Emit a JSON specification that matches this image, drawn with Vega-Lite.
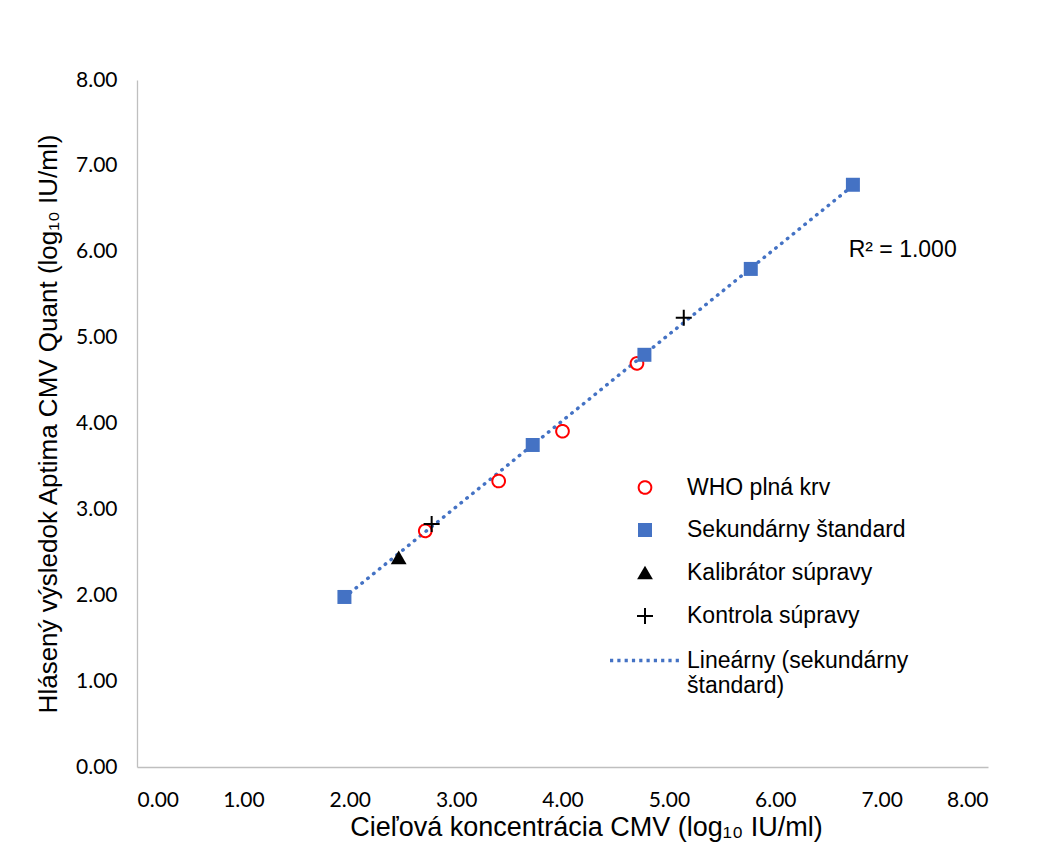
{
  "$schema": "https://vega.github.io/schema/vega-lite/v6.json",
  "width": 851,
  "height": 687,
  "autosize": {"type": "none"},
  "padding": {"left": 137, "top": 80, "right": 60, "bottom": 78},
  "background": "#ffffff",
  "config": {
    "view": {"stroke": null},
    "axis": {
      "grid": false,
      "ticks": false,
      "domainColor": "#BFBFBF",
      "domainWidth": 1.3,
      "labelFont": "Lato",
      "labelFontSize": 21,
      "labelColor": "#000000",
      "titleFont": "Liberation Sans",
      "titleFontSize": 27,
      "titleFontWeight": "normal",
      "titleColor": "#000000"
    },
    "legend": {
      "orient": "none",
      "legendX": 494.5,
      "legendY": 396,
      "padding": 0,
      "labelFont": "Liberation Sans",
      "labelFontSize": 23,
      "labelColor": "#000000",
      "labelLimit": 500,
      "labelOffset": 28.5,
      "rowPadding": 18.5,
      "symbolOpacity": 1
    }
  },
  "datasets": {
    "pts": [
      {"s": "WHO plná krv", "x": 2.71, "y": 2.75},
      {"s": "WHO plná krv", "x": 3.40, "y": 3.33},
      {"s": "WHO plná krv", "x": 4.00, "y": 3.91},
      {"s": "WHO plná krv", "x": 4.70, "y": 4.70},
      {"s": "Sekundárny štandard", "x": 1.95, "y": 1.98},
      {"s": "Sekundárny štandard", "x": 3.72, "y": 3.75},
      {"s": "Sekundárny štandard", "x": 4.77, "y": 4.80},
      {"s": "Sekundárny štandard", "x": 5.77, "y": 5.80},
      {"s": "Sekundárny štandard", "x": 6.73, "y": 6.78},
      {"s": "Kalibrátor súpravy", "x": 2.46, "y": 2.44},
      {"s": "Kontrola súpravy", "x": 2.77, "y": 2.83},
      {"s": "Kontrola súpravy", "x": 5.14, "y": 5.23}
    ],
    "ann": [{"x": 6.69, "y": 6.02, "label": "R² = 1.000"}]
  },
  "layer": [
    {
      "data": {"name": "pts"},
      "transform": [
        {"filter": "datum.s === 'Sekundárny štandard'"},
        {"regression": "y", "on": "x", "method": "linear"}
      ],
      "mark": {"type": "line", "color": "#4472C4", "strokeWidth": 3.5, "strokeDash": [0.5, 7], "strokeCap": "round", "opacity": 1},
      "encoding": {
        "x": {"field": "x", "type": "quantitative"},
        "y": {"field": "y", "type": "quantitative"}
      }
    },
    {
      "data": {"name": "pts"},
      "mark": {"type": "point", "opacity": 1},
      "encoding": {
        "x": {
          "field": "x", "type": "quantitative",
          "scale": {"domain": [0, 8], "nice": false},
          "axis": {"values": [0, 1, 2, 3, 4, 5, 6, 7, 8], "format": ".2f", "labelPadding": 22, "titlePadding": 4, "titleX": 449, "title": "Cieľová koncentrácia CMV (log₁₀ IU/ml)"}
        },
        "y": {
          "field": "y", "type": "quantitative",
          "scale": {"domain": [0, 8], "nice": false},
          "axis": {"values": [0, 1, 2, 3, 4, 5, 6, 7, 8], "format": ".2f", "labelPadding": 20, "titlePadding": 14, "titleFontSize": 26, "title": "Hlásený výsledok Aptima CMV Quant (log₁₀ IU/ml)"}
        },
        "fill": {
          "field": "s", "type": "nominal", "title": null,
          "scale": {"domain": ["WHO plná krv", "Sekundárny štandard", "Kalibrátor súpravy", "Kontrola súpravy", "Lineárny (sekundárny štandard)"], "range": ["transparent", "#4472C4", "#000000", "transparent", "transparent"]},
          "legend": {"labelExpr": "datum.label === 'Lineárny (sekundárny štandard)' ? ['Lineárny (sekundárny', 'štandard)'] : datum.label"}
        },
        "stroke": {
          "field": "s", "type": "nominal", "title": null,
          "scale": {"domain": ["WHO plná krv", "Sekundárny štandard", "Kalibrátor súpravy", "Kontrola súpravy", "Lineárny (sekundárny štandard)"], "range": ["#FF0000", "transparent", "transparent", "#000000", "#4472C4"]},
          "legend": {"labelExpr": "datum.label === 'Lineárny (sekundárny štandard)' ? ['Lineárny (sekundárny', 'štandard)'] : datum.label"}
        },
        "size": {
          "field": "s", "type": "nominal", "title": null,
          "scale": {"type": "ordinal", "domain": ["WHO plná krv", "Sekundárny štandard", "Kalibrátor súpravy", "Kontrola súpravy", "Lineárny (sekundárny štandard)"], "range": [160, 196, 250, 256, 544]},
          "legend": {"labelExpr": "datum.label === 'Lineárny (sekundárny štandard)' ? ['Lineárny (sekundárny', 'štandard)'] : datum.label"}
        },
        "strokeWidth": {
          "field": "s", "type": "nominal", "title": null,
          "scale": {"type": "ordinal", "domain": ["WHO plná krv", "Sekundárny štandard", "Kalibrátor súpravy", "Kontrola súpravy", "Lineárny (sekundárny štandard)"], "range": [2, 0, 0, 2, 3.5]},
          "legend": {"labelExpr": "datum.label === 'Lineárny (sekundárny štandard)' ? ['Lineárny (sekundárny', 'štandard)'] : datum.label"}
        },
        "strokeDash": {
          "field": "s", "type": "nominal", "title": null,
          "scale": {"domain": ["WHO plná krv", "Sekundárny štandard", "Kalibrátor súpravy", "Kontrola súpravy", "Lineárny (sekundárny štandard)"], "range": [[1, 0], [1, 0], [1, 0], [1, 0], [3.2, 4.1]]},
          "legend": {"labelExpr": "datum.label === 'Lineárny (sekundárny štandard)' ? ['Lineárny (sekundárny', 'štandard)'] : datum.label"}
        },
        "shape": {
          "field": "s", "type": "nominal", "title": null,
          "scale": {"domain": ["WHO plná krv", "Sekundárny štandard", "Kalibrátor súpravy", "Kontrola súpravy", "Lineárny (sekundárny štandard)"], "range": ["circle", "square", "triangle-up", "M-1,0H1M0,-1V1", "M-3,0H3"]},
          "legend": {"labelExpr": "datum.label === 'Lineárny (sekundárny štandard)' ? ['Lineárny (sekundárny', 'štandard)'] : datum.label"}
        }
      }
    },
    {
      "data": {"name": "ann"},
      "mark": {"type": "text", "align": "left", "baseline": "middle", "font": "Liberation Sans", "fontSize": 23, "color": "#000000"},
      "encoding": {
        "x": {"field": "x", "type": "quantitative"},
        "y": {"field": "y", "type": "quantitative"},
        "text": {"field": "label", "type": "nominal"}
      }
    }
  ]
}
